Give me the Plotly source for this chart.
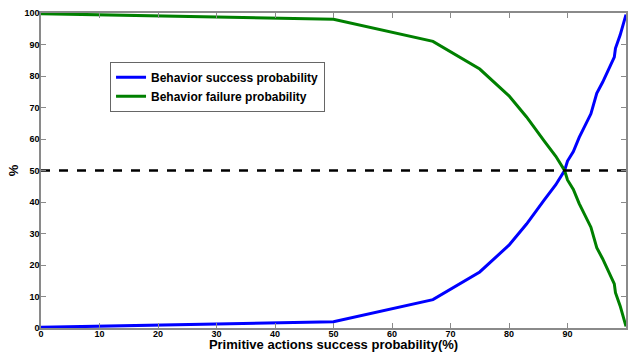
import plotly.graph_objects as go

x_vals = [0, 10, 20, 30, 40, 50, 67, 75, 80, 83, 86, 88, 89.5, 90, 91, 92, 94, 95, 96, 97, 98, 98.2, 99, 100]
success = [0.2, 0.6, 1.0, 1.3, 1.6, 2.0, 9.0, 17.8, 26.3, 33.0, 40.6, 45.5, 50.0, 53.0, 56.0, 60.5, 68.0, 74.5, 78.0, 82.0, 86.0, 88.8, 93.0, 99.5]
failure = [99.8, 99.4, 99.0, 98.7, 98.4, 98.0, 91.0, 82.2, 73.7, 67.0, 59.4, 54.5, 50.0, 47.0, 44.0, 39.5, 32.0, 25.5, 22.0, 18.0, 14.0, 11.2, 7.0, 0.5]
threshold = 50
x_ticks = [0, 10, 20, 30, 40, 50, 60, 70, 80, 90, 100]
y_ticks = [0, 10, 20, 30, 40, 50, 60, 70, 80, 90, 100]

fig = go.Figure()
fig.add_trace(go.Scatter(x=x_vals, y=success, mode="lines", name="Behavior success probability",
                         line=dict(color="#0000FF", width=3)))
fig.add_trace(go.Scatter(x=x_vals, y=failure, mode="lines", name="Behavior failure probability",
                         line=dict(color="#008000", width=3)))
fig.add_trace(go.Scatter(x=[x_ticks[0], x_ticks[-1]], y=[threshold, threshold], mode="lines",
                         showlegend=False, line=dict(color="black", width=2.5, dash="dash")))

axis_common = dict(showgrid=False, zeroline=False, showline=True, linecolor="#8a8a8a", linewidth=1.5,
                   mirror="ticks", ticks="inside", ticklen=5, tickcolor="#8a8a8a", tickwidth=1,
                   tickfont=dict(family="Liberation Sans Narrow, Liberation Sans, Arial", size=9, color="black", weight="bold"))

fig.update_xaxes(range=[0, 100], tickvals=x_ticks, ticktext=[str(v) for v in x_ticks],
                 ticklabelstandoff=-4,
                 title=dict(text="Primitive actions success probability(%)", standoff=1,
                            font=dict(family="Liberation Sans, Arial", size=13, color="black", weight="bold")),
                 automargin=False, **axis_common)
fig.update_yaxes(range=[0, 100], tickvals=y_ticks, ticktext=[str(v) for v in y_ticks],
                 ticklabelstandoff=-2,
                 title=dict(text="%", standoff=3,
                            font=dict(family="Liberation Sans, Arial", size=13, color="black", weight="bold")),
                 automargin=False, **axis_common)

fig.update_layout(
    width=629, height=352,
    margin=dict(l=41, r=3, t=13, b=24),
    paper_bgcolor="white", plot_bgcolor="white",
    showlegend=True,
    legend=dict(x=0.118, y=0.845, xanchor="left", yanchor="top",
                bgcolor="white", bordercolor="#666666", borderwidth=1,
                font=dict(family="Liberation Sans, Arial", size=12, color="black", weight="bold"),
                tracegroupgap=0, itemwidth=30),
)

fig.write_html("out.html", config={"displayModeBar": False},
               post_script="document.body.style.margin='0';document.body.style.overflow='hidden';")
